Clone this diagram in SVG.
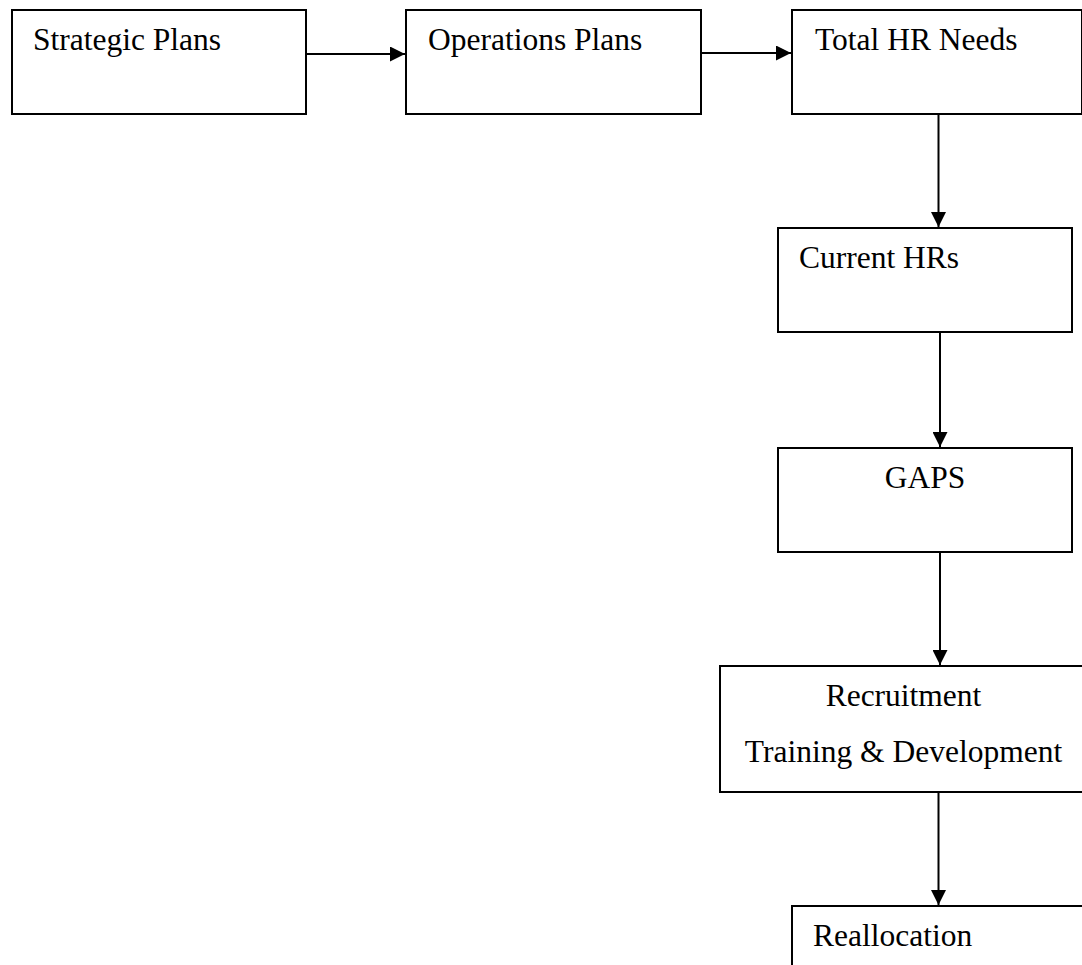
<svg xmlns="http://www.w3.org/2000/svg" width="1082" height="965" viewBox="0 0 1082 965">
<style>
.box{fill:#fff;stroke:#000;stroke-width:2}
.lbl{font-family:"Liberation Serif","Times New Roman",serif;font-size:31.5px;fill:#000}
.con{stroke:#000;stroke-width:2;fill:none}
</style>
<defs>
<marker id="ah" viewBox="0 0 15 15" refX="15" refY="7.5" markerWidth="15" markerHeight="15" markerUnits="userSpaceOnUse" orient="auto">
<path d="M0,0 L15,7.5 L0,15 z" fill="#000"/>
</marker>
</defs>
<rect width="1082" height="965" fill="#fff"/>
<g id="n1"><rect class="box" x="12" y="10" width="294" height="104"/><text class="lbl" x="33" y="50">Strategic Plans</text></g>
<g id="n2"><rect class="box" x="406" y="10" width="295" height="104"/><text class="lbl" x="428" y="50">Operations Plans</text></g>
<g id="n3"><rect class="box" x="792" y="10" width="290" height="104"/><text class="lbl" x="815" y="50">Total HR Needs</text></g>
<g id="n4"><rect class="box" x="778" y="228" width="294" height="104"/><text class="lbl" x="799" y="268">Current HRs</text></g>
<g id="n5"><rect class="box" x="778" y="448" width="294" height="104"/><text class="lbl" x="925" y="488" text-anchor="middle">GAPS</text></g>
<g id="n6"><rect class="box" x="720" y="666" width="370" height="126"/><text class="lbl" x="903.5" y="706" text-anchor="middle">Recruitment</text><text class="lbl" x="903.5" y="762" text-anchor="middle">Training &amp; Development</text></g>
<g id="n7"><rect class="box" x="792" y="906" width="300" height="80"/><text class="lbl" x="813" y="946">Reallocation</text></g>
<g id="connectors">
<line class="con" x1="306" y1="54" x2="405" y2="54" marker-end="url(#ah)"/>
<line class="con" x1="701" y1="53" x2="791" y2="53" marker-end="url(#ah)"/>
<line class="con" x1="938.5" y1="114" x2="938.5" y2="227" marker-end="url(#ah)"/>
<line class="con" x1="940" y1="332" x2="940" y2="447" marker-end="url(#ah)"/>
<line class="con" x1="940" y1="552" x2="940" y2="665" marker-end="url(#ah)"/>
<line class="con" x1="938.5" y1="792" x2="938.5" y2="905" marker-end="url(#ah)"/>
</g>
</svg>
